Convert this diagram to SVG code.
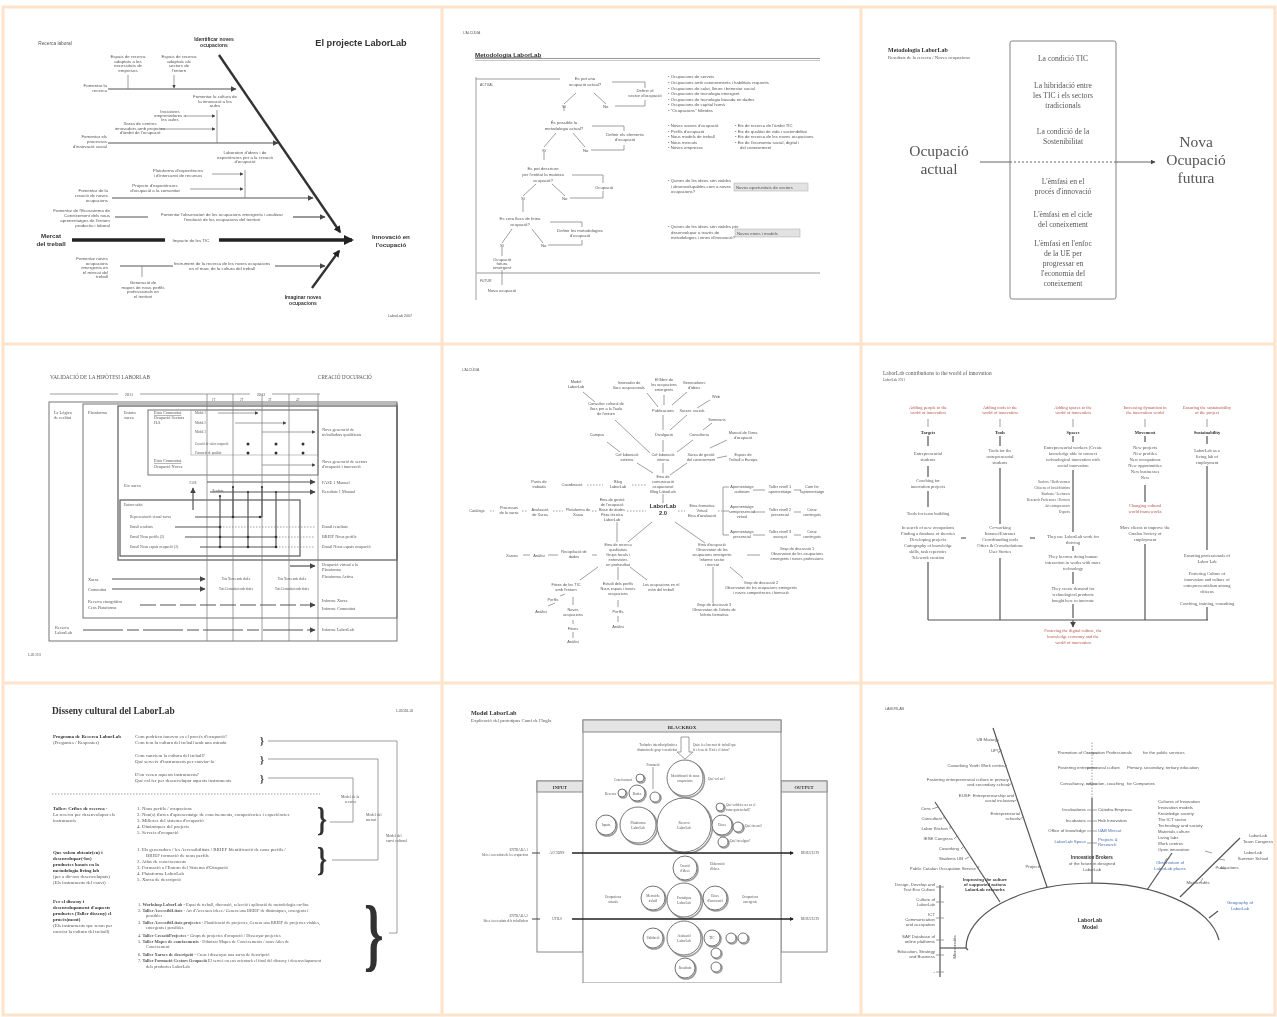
<svg xmlns="http://www.w3.org/2000/svg" width="1277" height="1017" viewBox="0 0 1277 1017">
<defs>
<style>
.t{font-family:"Liberation Sans",Arial,sans-serif;fill:#555}
.s{font-family:"Liberation Serif","Times New Roman",serif;fill:#555}
.b{font-weight:bold;fill:#333}
.m{text-anchor:middle}
.e{text-anchor:end}
.l{stroke:#777;stroke-width:0.7;fill:none}
.k{stroke:#555;stroke-width:1.2;fill:none}
.K{stroke:#333;stroke-width:2.4;fill:none}
.d{stroke:#777;stroke-width:0.7;fill:none;stroke-dasharray:1.5 1.5}
.r{fill:#b4544a}
.u{fill:#4a6fb4}
.fr{stroke:#fde3c9;stroke-width:3;fill:none}
.c{fill:#fff;stroke:#666;stroke-width:0.9}
.cs{fill:none;stroke:#999;stroke-width:1.6}
</style>
<marker id="a" viewBox="0 0 10 10" refX="9" refY="5" markerWidth="5" markerHeight="5" orient="auto"><path d="M0,0 L10,5 L0,10 z" fill="#444"/></marker>
<marker id="A" viewBox="0 0 10 10" refX="8" refY="5" markerWidth="3" markerHeight="3" orient="auto"><path d="M0,0 L10,5 L0,10 z" fill="#222"/></marker>
<filter id="soft" x="0" y="0" width="1" height="1"><feGaussianBlur stdDeviation="0.45"/></filter>
</defs>
<rect width="1277" height="1017" fill="#fff"/>
<g id="frames">
<rect class="fr" x="3" y="7" width="1272" height="1008"/>
<line class="fr" x1="442" y1="7" x2="442" y2="1015"/>
<line class="fr" x1="861" y1="7" x2="861" y2="1015"/>
<line class="fr" x1="3" y1="344" x2="1275" y2="344"/>
<line class="fr" x1="3" y1="683" x2="1275" y2="683"/>
</g>
<g filter="url(#soft)" font-size="4.2">
<!-- PANEL 1 -->
<g id="panel1" font-size="4.4">
<text class="t" x="55" y="45" text-anchor="middle" font-size="4.8">Recerca laboral</text>
<text class="t b m" x="214" y="41" font-size="5">Identificar noves</text>
<text class="t b m" x="214" y="47" font-size="5">ocupacions</text>
<text class="t b m" x="361" y="46" font-size="9.2">El projecte LaborLab</text>
<g id="p1-connectors">
<line class="K" x1="219" y1="55" x2="340" y2="232" marker-end="url(#A)"/>
<line class="k" x1="108" y1="89" x2="236" y2="89" marker-end="url(#a)"/>
<line class="l" x1="128" y1="75" x2="128" y2="89"/>
<line class="l" x1="174" y1="75" x2="174" y2="88" marker-end="url(#a)"/>
<line class="k" x1="108" y1="143" x2="278" y2="143" marker-end="url(#a)"/>
<line class="l" x1="217" y1="110" x2="217" y2="143"/>
<line class="l" x1="185" y1="116" x2="215" y2="116" marker-end="url(#a)"/>
<line class="l" x1="160" y1="129" x2="215" y2="129" marker-end="url(#a)"/>
<line class="k" x1="112" y1="198" x2="313" y2="198" marker-end="url(#a)"/>
<line class="l" x1="245" y1="170" x2="245" y2="198"/>
<line class="l" x1="212" y1="174" x2="243" y2="174" marker-end="url(#a)"/>
<line class="l" x1="190" y1="189" x2="243" y2="189" marker-end="url(#a)"/>
<line class="k" x1="115" y1="217" x2="148" y2="217"/>
<line class="k" x1="293" y1="217" x2="325" y2="217" marker-end="url(#a)"/>
<line stroke="#222" stroke-width="3.4" x1="72" y1="240" x2="165" y2="240"/>
<line stroke="#222" stroke-width="3.4" x1="219" y1="240" x2="352" y2="240" marker-end="url(#A)"/>
<line class="k" x1="120" y1="266" x2="173" y2="266"/>
<line class="l" x1="142" y1="266" x2="142" y2="277"/>
<line class="k" x1="275" y1="266" x2="325" y2="266" marker-end="url(#a)"/>
<line class="K" x1="312" y1="288" x2="339" y2="251" marker-end="url(#A)"/>
</g>
<text class="t m" x="128" y="58">Espais de recerca</text><text class="t m" x="128" y="62.5">adaptats a les</text><text class="t m" x="128" y="67">necessitats de</text><text class="t m" x="128" y="71.5">empreses</text>
<text class="t m" x="179" y="58">Espais de recerca</text><text class="t m" x="179" y="62.5">adaptats als</text><text class="t m" x="179" y="67">sectors de</text><text class="t m" x="179" y="71.5">l'entorn</text>
<text class="t e" x="107" y="87">Fomentar la</text><text class="t e" x="107" y="92">recerca</text>
<text class="t m" x="215" y="98">Fomentar la cultura de</text><text class="t m" x="215" y="102.5">la innovació a les</text><text class="t m" x="215" y="107">aules</text>
<text class="t m" x="170" y="113">Iniciatives</text><text class="t m" x="170" y="117">emprenedores a</text><text class="t m" x="170" y="121">les aules</text>
<text class="t m" x="140" y="125">Xarxa de centres</text><text class="t m" x="140" y="129.5">innovadors amb projectes</text><text class="t m" x="140" y="134">d'àmbit de l'ocupació</text>
<text class="t e" x="107" y="138">Fomentar els</text><text class="t e" x="107" y="143">processos</text><text class="t e" x="107" y="148">d'innovació social</text>
<text class="t m" x="245" y="154">Laboratori d'idees i de</text><text class="t m" x="245" y="158.5">experiències per a la creació</text><text class="t m" x="245" y="163">d'ocupació</text>
<text class="t m" x="178" y="172">Plataforma d'experiències</text><text class="t m" x="178" y="176.5">i d'intercanvi de recursos</text>
<text class="t m" x="155" y="187">Projecte d'experiències</text><text class="t m" x="155" y="191.5">d'ocupació a la comunitat</text>
<text class="t e" x="108" y="192">Fomentar de la</text><text class="t e" x="108" y="197">creació de noves</text><text class="t e" x="108" y="202">ocupacions</text>
<text class="t m" x="222" y="216">Fomentar l'observatori de les ocupacions emergents i analitzar</text><text class="t m" x="222" y="221">l'evolució de les ocupacions del territori</text>
<text class="t e" x="110" y="212">Fomentar de l'Ecosistema de</text><text class="t e" x="110" y="217">Coneixement dels nous</text><text class="t e" x="110" y="222">aprenentatges de l'entorn</text><text class="t e" x="110" y="227">productiu i laboral</text>
<text class="t m" x="191" y="242">Impacte de les TIC</text>
<text class="t b m" x="51" y="238" font-size="6.2">Mercat</text><text class="t b m" x="51" y="246" font-size="6.2">del treball</text>
<text class="t b m" x="391" y="239" font-size="6.2">Innovació en</text><text class="t b m" x="391" y="247" font-size="6.2">l'ocupació</text>
<text class="t m" x="222" y="265">Instrument de la recerca de les noves ocupacions</text><text class="t m" x="222" y="270">en el marc de la cultura del treball</text>
<text class="t e" x="108" y="260">Fomentar noves</text><text class="t e" x="108" y="264.5">ocupacions</text><text class="t e" x="108" y="269">emergents en</text><text class="t e" x="108" y="273.5">el mercat del</text><text class="t e" x="108" y="278">treball</text>
<text class="t m" x="143" y="284">Generació de</text><text class="t m" x="143" y="288.5">mapes de nous perfils</text><text class="t m" x="143" y="293">professionals en</text><text class="t m" x="143" y="297.5">el territori</text>
<text class="t b m" x="303" y="299" font-size="5">Imaginar noves</text><text class="t b m" x="303" y="305" font-size="5">ocupacions</text>
<text class="t m" x="400" y="317" font-size="3.6">LaborLab 2007</text>
</g>

<!-- PANEL 2 -->
<g id="panel2" font-size="4.3">
<text class="t" x="463" y="34" font-size="3.4">L'ALCÚDIA</text>
<text class="t b" x="475" y="56.5" font-size="6.2" text-decoration="underline">Metodologia LaborLab</text>
<line stroke="#999" stroke-width="1.2" x1="475" y1="58.5" x2="820" y2="58.5"/>
<line stroke="#bbb" stroke-width="0.8" x1="475" y1="60.5" x2="820" y2="60.5"/>
<g id="p2-connectors">
<line class="l" x1="476" y1="77" x2="476" y2="300"/>
<line class="l" x1="476" y1="79" x2="560" y2="79"/>
<line stroke="#bbb" stroke-width="1.6" x1="476" y1="273" x2="820" y2="273"/>
<path class="l" d="M576,93 L564,104 M594,93 L606,104 M612,82 L645,82 L645,88 M615,106 L645,106 L645,100"/>
<path class="l" d="M556,133 L544,147 M573,133 L585,147 M592,126 L624,126 L624,131 M591,150 L624,150 L624,145"/>
<path class="l" d="M564,106 L564,111 M544,152 L544,160"/>
<path class="l" d="M536,184 L523,196 M552,184 L565,196 M572,175 L603,175 L603,183 M570,198 L603,198 L603,191"/>
<path class="l" d="M523,200 L523,212 M512,229 L502,243 M532,229 L543,243 M550,222 L582,222 L582,227 M548,245 L582,245 L582,240"/>
<path class="l" d="M502,247 L502,256 M502,270 L502,285"/>
</g>
<text class="t" x="480" y="86" font-size="3.4">ACTUAL</text>
<text class="t m" x="585" y="80">Es pot una</text><text class="t m" x="585" y="86">ocupació actual?</text>
<text class="t" x="562" y="108">Sí</text><text class="t" x="603" y="108">No</text>
<text class="t m" x="645" y="92">Definir el</text><text class="t m" x="645" y="97">sector d'ocupació</text>
<text class="t m" x="564" y="124">És possible la</text><text class="t m" x="564" y="130">metodologia actual?</text>
<text class="t" x="542" y="152">Sí</text><text class="t" x="583" y="152">No</text>
<text class="t m" x="625" y="136">Definir els elements</text><text class="t m" x="625" y="141">d'ocupació</text>
<text class="t m" x="543" y="170">Es pot descriure</text><text class="t m" x="543" y="176">per l'entitat la mateixa</text><text class="t m" x="543" y="182">ocupació?</text>
<text class="t" x="521" y="200">Sí</text><text class="t" x="562" y="200">No</text>
<text class="t m" x="604" y="189">Ocupació</text>
<text class="t m" x="520" y="220">Es crea llocs de feina</text><text class="t m" x="520" y="226">ocupació?</text>
<text class="t" x="500" y="247">Sí</text><text class="t" x="541" y="247">No</text>
<text class="t m" x="580" y="232">Definir les metodologies</text><text class="t m" x="580" y="237">d'ocupació</text>
<text class="t m" x="502" y="261">Ocupació</text><text class="t m" x="502" y="265">futura</text><text class="t m" x="502" y="269">emergent</text>
<text class="t" x="480" y="282" font-size="3.4">FUTUR</text>
<text class="t m" x="502" y="292">Nova ocupació</text>
<text class="t" x="668" y="78">• Ocupacions de serveis</text>
<text class="t" x="668" y="84">• Ocupacions amb coneixements i habilitats requerits</text>
<text class="t" x="668" y="89.5">• Ocupacions de salut, lleure i benestar social</text>
<text class="t" x="668" y="95">• Ocupacions de tecnologia emergent</text>
<text class="t" x="668" y="100.5">• Ocupacions de tecnologia basada en dades</text>
<text class="t" x="668" y="106">• Ocupacions de capital humà</text>
<text class="t" x="668" y="111.5">• "Ocupacions" híbrides</text>
<text class="t" x="668" y="127">• Noves xarxes d'ocupació</text>
<text class="t" x="668" y="132.5">• Perfils d'ocupació</text>
<text class="t" x="668" y="138">• Nous models de treball</text>
<text class="t" x="668" y="143.5">• Nous mercats</text>
<text class="t" x="668" y="149">• Noves empreses</text>
<text class="t" x="735" y="127">• Eix de recerca de l'àmbit TIC</text>
<text class="t" x="735" y="132.5">• Eix de qualitat de vida i sostenibilitat</text>
<text class="t" x="735" y="138">• Eix de recerca de les noves ocupacions</text>
<text class="t" x="735" y="143.5">• Eix de l'economia social, digital i</text>
<text class="t" x="740" y="149">del coneixement</text>
<text class="t" x="668" y="182">• Quines de les idees són viables</text>
<text class="t" x="671" y="187.5">i desenvolupables com a noves</text>
<text class="t" x="671" y="193">ocupacions?</text>
<rect x="734" y="183" width="74" height="8" fill="#e2e2e2" stroke="#aaa" stroke-width="0.5"/>
<text class="t" x="736" y="188.5">Noves oportunitats de sectors</text>
<text class="t" x="668" y="228">• Quines de les idees són viables per</text>
<text class="t" x="671" y="233.5">desenvolupar a través de</text>
<text class="t" x="671" y="239">metodologies i eines d'innovació?</text>
<rect x="735" y="229" width="65" height="8" fill="#e2e2e2" stroke="#aaa" stroke-width="0.5"/>
<text class="t" x="737" y="234.5">Noves eines i models</text>
</g>

<!-- PANEL 3 -->
<g id="panel3">
<text class="s b" x="888" y="52" font-size="6">Metodologia LaborLab</text>
<text class="s" x="888" y="58.5" font-size="4.8">Resultats de la recerca / Noves ocupacions</text>
<rect x="1010" y="41" width="106" height="258" rx="2" fill="none" stroke="#777" stroke-width="0.9"/>
<g font-size="7.6">
<text class="s m" x="1063" y="61">La condició TIC</text>
<text class="s m" x="1063" y="88">La hibridació entre</text>
<text class="s m" x="1063" y="98">les TIC i els sectors</text>
<text class="s m" x="1063" y="108">tradicionals</text>
<text class="s m" x="1063" y="134">La condició de la</text>
<text class="s m" x="1063" y="144">Sostenibilitat</text>
<text class="s m" x="1063" y="184">L'èmfasi en el</text>
<text class="s m" x="1063" y="194">procés d'innovació</text>
<text class="s m" x="1063" y="217">L'èmfasi en el cicle</text>
<text class="s m" x="1063" y="227">del coneixement</text>
<text class="s m" x="1063" y="246">L'èmfasi en l'enfoc</text>
<text class="s m" x="1063" y="256">de la UE per</text>
<text class="s m" x="1063" y="266">progressar en</text>
<text class="s m" x="1063" y="276">l'economia del</text>
<text class="s m" x="1063" y="286">coneixement</text>
</g>
<text class="s m" x="939" y="156" font-size="15.5">Ocupació</text>
<text class="s m" x="939" y="174" font-size="15.5">actual</text>
<text class="s m" x="1196" y="147" font-size="15.5">Nova</text>
<text class="s m" x="1196" y="165" font-size="15.5">Ocupació</text>
<text class="s m" x="1196" y="183" font-size="15.5">futura</text>
<g id="p3-connectors">
<line stroke="#666" stroke-width="1" x1="980" y1="162" x2="1010" y2="162"/>
<line stroke="#666" stroke-width="1" stroke-dasharray="2 2" x1="1010" y1="162" x2="1116" y2="162"/>
<line stroke="#666" stroke-width="1" x1="1116" y1="162" x2="1155" y2="162" marker-end="url(#a)"/>
</g>
</g>

<!-- PANEL 4 -->
<g id="panel4" font-size="4.3">
<text class="s" x="50" y="379" font-size="5.3">VALIDACIÓ DE LA HIPÒTESI LABORLAB</text>
<text class="s" x="318" y="379" font-size="5.1">CREACIÓ D'OCUPACIÓ</text>
<line class="l" x1="50" y1="394" x2="118" y2="394"/><line class="l" x1="140" y1="394" x2="250" y2="394"/><line class="l" x1="272" y1="394" x2="320" y2="394"/>
<text class="s m" x="129" y="395.5">2011</text><text class="s m" x="261" y="395.5">2012</text>
<text class="s" x="212" y="401" font-size="3">1T</text><text class="s" x="240" y="401" font-size="3">2T</text><text class="s" x="268" y="401" font-size="3">3T</text><text class="s" x="296" y="401" font-size="3">4T</text>
<rect x="49" y="402" width="348" height="239" fill="none" stroke="#666" stroke-width="0.9"/>
<rect x="83" y="404" width="314" height="214" fill="none" stroke="#666" stroke-width="0.9"/>
<rect x="118" y="406" width="279" height="154" fill="none" stroke="#666" stroke-width="1.3"/>
<rect x="148" y="410" width="170" height="65" fill="none" stroke="#666" stroke-width="0.9"/>
<rect x="191" y="410" width="127" height="45" fill="none" stroke="#999" stroke-width="0.6"/>
<rect x="120" y="500" width="180" height="56" fill="none" stroke="#666" stroke-width="1.3"/>
<g id="p4-connectors">
<path class="l" d="M207,394 V641 M233,394 V641 M262,394 V641 M289,394 V641 M318,394 V641"/>
<line class="l" x1="218" y1="413" x2="258" y2="413" marker-end="url(#a)"/>
<line class="l" x1="235" y1="423" x2="286" y2="423" marker-end="url(#a)"/>
<line class="l" x1="262" y1="432" x2="315" y2="432" marker-end="url(#a)"/>
<line class="l" x1="262" y1="465" x2="315" y2="465" marker-end="url(#a)"/>
<line class="k" x1="207" y1="482" x2="315" y2="482" marker-end="url(#a)"/>
<line class="k" x1="210" y1="492" x2="315" y2="492" marker-end="url(#a)"/>
<line class="k" x1="193" y1="510" x2="193" y2="488" marker-end="url(#a)"/>
<path class="k" d="M220,496 V547 M233,487 V517 M248,492 V547 M262,487 V517 M276,492 V547"/>
<line class="k" x1="195" y1="517" x2="262" y2="517"/>
<line class="k" x1="175" y1="527" x2="220" y2="527"/>
<line class="k" x1="185" y1="537" x2="276" y2="537"/>
<line class="k" x1="200" y1="547" x2="276" y2="547"/>
<line class="d" x1="220" y1="527" x2="315" y2="527"/><line class="d" x1="276" y1="537" x2="315" y2="537"/><line class="d" x1="276" y1="547" x2="315" y2="547"/>
<line class="k" x1="290" y1="566" x2="315" y2="566" marker-end="url(#a)"/>
<line class="k" x1="112" y1="579" x2="205" y2="579" marker-end="url(#a)"/>
<line class="k" x1="112" y1="589" x2="205" y2="589" marker-end="url(#a)"/>
<line class="k" x1="140" y1="605" x2="315" y2="605" marker-end="url(#a)" stroke-dasharray="16 4"/>
<line class="k" x1="83" y1="630" x2="315" y2="630" marker-end="url(#a)" stroke-dasharray="40 4 12 4"/>
</g>
<g fill="#333"><circle cx="248" cy="444" r="1.5"/><circle cx="276" cy="444" r="1.5"/><circle cx="303" cy="444" r="1.5"/><circle cx="248" cy="453" r="1.5"/><circle cx="276" cy="453" r="1.5"/><circle cx="303" cy="453" r="1.5"/>
<circle cx="233" cy="517" r="1.3"/><circle cx="260" cy="517" r="1.3"/><circle cx="220" cy="527" r="1.3"/><circle cx="220" cy="537" r="1.3"/><circle cx="248" cy="537" r="1.3"/><circle cx="276" cy="537" r="1.3"/><circle cx="220" cy="547" r="1.3"/><circle cx="248" cy="547" r="1.3"/><circle cx="276" cy="547" r="1.3"/>
<circle cx="233" cy="487" r="1.1"/><circle cx="262" cy="487" r="1.1"/><circle cx="248" cy="492" r="1.1"/><circle cx="220" cy="496" r="1.1"/><circle cx="276" cy="492" r="1.1"/></g>
<text class="s" x="54" y="414">La Lògica</text><text class="s" x="54" y="419">de realitat</text>
<text class="s" x="88" y="414">Plataforma</text>
<text class="s" x="124" y="414">Entorn</text><text class="s" x="124" y="419">xarxa</text>
<text class="s" x="154" y="414" text-decoration="underline">Eina Comunitat</text><text class="s" x="154" y="419">Ocupació Sectors</text><text class="s" x="154" y="424">ILS</text>
<text class="s" x="195" y="414" font-size="3.2">Mòdul 1</text><text class="s" x="195" y="424" font-size="3.2">Mòdul 2</text><text class="s" x="195" y="433" font-size="3.2">Mòdul 3</text>
<text class="s" x="195" y="445" font-size="3.2">Creació de valor ocupació</text><text class="s" x="195" y="453.5" font-size="3.2">Formació de qualitat</text>
<text class="s" x="154" y="462" text-decoration="underline">Eina Comunitat</text><text class="s" x="154" y="468">Ocupació Noves</text>
<text class="s" x="124" y="487">Eix xarxa</text>
<text class="s m" x="193" y="484" font-size="3">FASE</text>
<text class="s m" x="218" y="492" font-size="3">Resultats</text>
<text class="s" x="124" y="506" font-size="3.8">Entorn salut</text>
<text class="s" x="130" y="518" font-size="3.8">Representació visual xarxa</text>
<text class="s" x="130" y="528" font-size="3.8">Email resultats</text>
<text class="s" x="130" y="538" font-size="3.8">Email Nous perfils (2)</text>
<text class="s" x="130" y="548" font-size="3.8">Email Nous espais ocupació (2)</text>
<text class="s" x="88" y="581">Xarxa</text>
<text class="s" x="88" y="591">Comunitat</text>
<text class="s m" x="236" y="580" font-size="3.2">Tots Xarxa amb dades</text><text class="s m" x="292" y="580" font-size="3.2">Tots Xarxa amb dades</text>
<text class="s m" x="236" y="590" font-size="3.2">Tots Comunitat amb dades</text><text class="s m" x="292" y="590" font-size="3.2">Tots Comunitat amb dades</text>
<text class="s" x="88" y="603">Recerca etnogràfica</text><text class="s" x="88" y="609">Cens Plataforma</text>
<text class="s" x="55" y="629">Recerca</text><text class="s" x="55" y="634">LaborLab</text>
<text class="s" x="322" y="431">Nova generació de</text><text class="s" x="322" y="436">treballadors qualificats</text>
<text class="s" x="322" y="463">Nova generació de sectors</text><text class="s" x="322" y="468">d'ocupació i innovació</text>
<text class="s" x="322" y="484">FASE 1 Manual</text>
<text class="s" x="322" y="493">Resultats 1 Manual</text>
<text class="s" x="322" y="528">Email resultats</text>
<text class="s" x="322" y="538">BREIF Nous perfils</text>
<text class="s" x="322" y="548">Email Nous espais ocupació</text>
<text class="s" x="322" y="566">Ocupació virtual a la</text><text class="s" x="322" y="571">Plataforma</text><text class="s" x="322" y="578">Plataforma Activa</text>
<text class="s" x="322" y="602">Informe Xarxa</text><text class="s" x="322" y="610">Informe Comunitat</text>
<text class="s" x="322" y="631">Informe LaborLab</text>
<text class="s" x="28" y="656" font-size="3.2">LAB 2011</text>
</g>

<!-- PANEL 5 -->
<g id="panel5" font-size="3.9">
<text class="t" x="462" y="371" font-size="3.4">L'ALCÚDIA</text>
<g id="p5-connectors">
<path class="l" d="M583,392 L595,402 M615,420 L650,453 M647,393 L658,407 M664,395 L664,405 M687,392 L672,405 M710,400 L697,408 M687,415 L670,430 M712,423 L703,430 M663,415 L663,430 M663,440 L663,452 M693,440 L677,452 M710,448 L727,440 M607,442 L620,452 M717,458 L727,456 M637,463 L653,473 M687,463 L670,475 M663,463 L663,473 M663,494 L663,503"/>
<path class="d" d="M587,485 L603,485 M632,485 L647,485 M627,511 L646,511 M592,511 L597,511 M553,511 L563,511 M522,511 L528,511 M490,511 L494,511 M678,511 L685,511 M718,511 L723,511"/>
<path class="l" d="M723,487 V535 M723,487 H729 M723,511 H729 M723,535 H729 M753,490 H765 M753,512 H765 M753,535 H765 M794,490 H801 M794,512 H801 M794,535 H801"/>
<path class="l" d="M652,522 L628,542 M675,522 L705,543 M617,522 L617,542 M597,555 L592,555 M548,555 L558,555 M523,555 L530,555 M747,555 L760,555 M730,567 L743,578 M713,567 L713,603 M598,567 L580,580 M618,567 L618,580 M630,567 L647,580 M573,597 L573,605 M573,620 L573,624 M573,632 L573,638 M618,600 L618,607 M618,616 L618,622 M560,596 L565,594 M548,606 L555,603"/>
</g>
<text class="t m" x="576" y="383">Model</text><text class="t m" x="576" y="388">LaborLab</text>
<text class="t m" x="606" y="405">Consultor cultural de</text><text class="t m" x="606" y="410">llocs per a la Taula</text><text class="t m" x="606" y="415">de l'entorn</text>
<text class="t m" x="629" y="384">Innovador de</text><text class="t m" x="629" y="389">llocs ocupacionals</text>
<text class="t m" x="664" y="381">El llibre de</text><text class="t m" x="664" y="386">les ocupacions</text><text class="t m" x="664" y="391">emergents</text>
<text class="t m" x="694" y="384">Generadores</text><text class="t m" x="694" y="389">d'idees</text>
<text class="t m" x="716" y="398">Web</text>
<text class="t m" x="663" y="412">Publicacions</text>
<text class="t m" x="692" y="412">Xarxes socials</text>
<text class="t m" x="717" y="421">Seminaris</text>
<text class="t m" x="664" y="436">Divulgació</text>
<text class="t m" x="699" y="436">Consultoria</text>
<text class="t m" x="743" y="434">Manual de l'àrea</text><text class="t m" x="743" y="439">d'ocupació</text>
<text class="t m" x="597" y="436">Campus</text>
<text class="t m" x="627" y="456">Col·laboració</text><text class="t m" x="627" y="461">externa</text>
<text class="t m" x="663" y="456">Col·laboració</text><text class="t m" x="663" y="461">interna</text>
<text class="t m" x="701" y="456">Xarxa de gestió</text><text class="t m" x="701" y="461">del coneixement</text>
<text class="t m" x="743" y="456">Espais de</text><text class="t m" x="743" y="461">Treball a Europa</text>
<text class="t m" x="663" y="478">Eina de</text><text class="t m" x="663" y="483">comunicació</text><text class="t m" x="663" y="488">ocupacional</text><text class="t m" x="663" y="493">Blog LaborLab</text>
<text class="t m" x="572" y="486">Coordinació</text>
<text class="t m" x="618" y="483">Blog</text><text class="t m" x="618" y="488">LaborLab</text>
<text class="t m" x="539" y="483">Punts de</text><text class="t m" x="539" y="488">trobada</text>
<text class="t m" x="612" y="501">Eina de gestió</text><text class="t m" x="612" y="506">de l'ocupació</text><text class="t m" x="612" y="511">Base de dades</text><text class="t m" x="612" y="516">Fitxa tècnica</text><text class="t m" x="612" y="521">LaborLab</text>
<text class="t m" x="578" y="511">Plataforma de</text><text class="t m" x="578" y="516">Xarxa</text>
<text class="t m" x="540" y="511">Avaluació</text><text class="t m" x="540" y="516">de Xarxa</text>
<text class="t m" x="509" y="509">Processos</text><text class="t m" x="509" y="514">de la xarxa</text>
<text class="t m" x="477" y="512">Catàlegs</text>
<text class="t m" x="702" y="507">Eina formativa</text><text class="t m" x="702" y="512">Virtual</text><text class="t m" x="702" y="517">Eina d'avaluació</text>
<text class="t m" x="742" y="488">Aprenentatge</text><text class="t m" x="742" y="493">autònom</text>
<text class="t m" x="780" y="488">Taller nivell 1</text><text class="t m" x="780" y="493">aprenentatge</text>
<text class="t m" x="812" y="488">Com fer</text><text class="t m" x="812" y="493">l'aprenentatge</text>
<text class="t m" x="742" y="508">Aprenentatge</text><text class="t m" x="742" y="513">semipresencial</text><text class="t m" x="742" y="518">virtual</text>
<text class="t m" x="780" y="511">Taller nivell 2</text><text class="t m" x="780" y="516">presencial</text>
<text class="t m" x="812" y="511">Crear</text><text class="t m" x="812" y="516">continguts</text>
<text class="t m" x="742" y="533">Aprenentatge</text><text class="t m" x="742" y="538">presencial</text>
<text class="t m" x="780" y="533">Taller nivell 3</text><text class="t m" x="780" y="538">avançat</text>
<text class="t m" x="812" y="533">Crear</text><text class="t m" x="812" y="538">continguts</text>
<text class="t m" x="618" y="546">Eina de recerca</text><text class="t m" x="618" y="551">qualitativa</text><text class="t m" x="618" y="556">Grups focals i</text><text class="t m" x="618" y="561">entrevistes</text><text class="t m" x="618" y="566">en profunditat</text>
<text class="t m" x="512" y="557">Xarxes</text><text class="t m" x="539" y="557">Anàlisi</text>
<text class="t m" x="574" y="553">Recopilació de</text><text class="t m" x="574" y="558">dades</text>
<text class="t m" x="712" y="546">Eina d'ocupació</text><text class="t m" x="712" y="551">Observatori de les</text><text class="t m" x="712" y="556">ocupacions emergents</text><text class="t m" x="712" y="561">Informe sector</text><text class="t m" x="712" y="566">i mercat</text>
<text class="t m" x="797" y="550">Grup de discussió 1</text><text class="t m" x="797" y="555">Observatori de les ocupacions</text><text class="t m" x="797" y="560">emergents i noves professions</text>
<text class="t m" x="761" y="584">Grup de discussió 2</text><text class="t m" x="761" y="589">Observatori de les ocupacions emergents</text><text class="t m" x="761" y="594">i noves competències i formació</text>
<text class="t m" x="714" y="606">Grup de discussió 3</text><text class="t m" x="714" y="611">Observatori de l'oferta de</text><text class="t m" x="714" y="616">l'oferta formativa</text>
<text class="t m" x="566" y="586">Fitxes de les TIC</text><text class="t m" x="566" y="591">amb l'entorn</text>
<text class="t m" x="618" y="585">Estudi dels perfils</text><text class="t m" x="618" y="590">Nous espais i noves</text><text class="t m" x="618" y="595">ocupacions</text>
<text class="t m" x="661" y="586">Les ocupacions en el</text><text class="t m" x="661" y="591">món del treball</text>
<text class="t m" x="553" y="601">Perfils</text>
<text class="t m" x="541" y="613">Anàlisi</text>
<text class="t m" x="573" y="611">Noves</text><text class="t m" x="573" y="616">ocupacions</text>
<text class="t m" x="573" y="630">Fitxes</text>
<text class="t m" x="573" y="643">Anàlisi</text>
<text class="t m" x="618" y="613">Perfils</text>
<text class="t m" x="618" y="628">Anàlisi</text>
<text class="t b m" x="663" y="508" font-size="5.8">LaborLab</text>
<text class="t b m" x="663" y="515" font-size="5.8">2.0</text>
</g>

<!-- PANEL 6 -->
<g id="panel6" font-size="4.5">
<text class="s" x="883" y="375" font-size="5.4">LaborLab contributions to the world of innovation</text>
<text class="s" x="883" y="380.5" font-size="3.6">LaborLab 2011</text>
<text class="s r m" x="928" y="409">Adding people to the</text><text class="s r m" x="928" y="414">world of innovation</text>
<text class="s r m" x="1000" y="409">Adding tools to the</text><text class="s r m" x="1000" y="414">world of innovation</text>
<text class="s r m" x="1073" y="409">Adding spaces to the</text><text class="s r m" x="1073" y="414">world of innovation</text>
<text class="s r m" x="1145" y="409">Increasing dynamism in</text><text class="s r m" x="1145" y="414">the innovation world</text>
<text class="s r m" x="1207" y="409">Ensuring the sustainability</text><text class="s r m" x="1207" y="414">of the project</text>
<g id="p6-connectors">
<path class="l" d="M928,419 V427 M1000,419 V427 M1073,419 V427 M1145,419 V427 M1207,419 V427"/>
<path class="k" d="M928,436 V446 M928,466 V477 M928,491 V507 M928,562 V620 M1000,436 V446 M1000,468 V524 M1000,558 V620 M1073,436 V442 M1073,470 V532 M1073,546 V551 M1073,572 V584 M1073,604 V618 M1145,436 V442 M1145,485 V502 M1145,544 V620 M1207,436 V444 M1207,466 V550 M1207,607 V620"/>
<path class="k" d="M928,620 H1208"/>
<path stroke="#444" stroke-width="1.2" fill="none" d="M961,538 H966 M1030,538 H1035"/>
<line class="k" x1="1073" y1="620" x2="1073" y2="627" marker-end="url(#a)"/>
</g>
<text class="s b m" x="928" y="434">Targets</text>
<text class="s b m" x="1000" y="434">Tools</text>
<text class="s b m" x="1073" y="434">Spaces</text>
<text class="s b m" x="1145" y="434">Movement</text>
<text class="s b m" x="1207" y="434">Sustainability</text>
<text class="s m" x="928" y="455">Entrepreneurial</text><text class="s m" x="928" y="461">students</text>
<text class="s m" x="928" y="482">Coaching for</text><text class="s m" x="928" y="488">innovation projects</text>
<text class="s m" x="928" y="515">Tools for team building</text>
<text class="s m" x="928" y="529">In search of new occupations</text><text class="s m" x="928" y="535">Finding a database of theories</text><text class="s m" x="928" y="541">Developing projects</text><text class="s m" x="928" y="547">Cartography of knowledge</text><text class="s m" x="928" y="553">skills, task repertoire</text><text class="s m" x="928" y="559">Telework creation</text>
<text class="s m" x="1000" y="452">Tools for the</text><text class="s m" x="1000" y="458">entrepreneurial</text><text class="s m" x="1000" y="464">students</text>
<text class="s m" x="1000" y="529">Co-working</text><text class="s m" x="1000" y="535">Intranet/Extranet</text><text class="s m" x="1000" y="541">Crowdfunding tools</text><text class="s m" x="1000" y="547">Offers &amp; Crowdsolutions</text><text class="s m" x="1000" y="553">User Stories</text>
<text class="s m" x="1073" y="449">Entrepreneurial workers (Create</text><text class="s m" x="1073" y="455">knowledge able to connect</text><text class="s m" x="1073" y="461">technological innovation with</text><text class="s m" x="1073" y="467">social innovation</text>
<text class="s e" x="1070" y="483" font-size="3.6">Seniors / Both women</text><text class="s e" x="1070" y="489" font-size="3.6">Citizens of local districts</text><text class="s e" x="1070" y="495" font-size="3.6">Students / Lecturers</text><text class="s e" x="1070" y="501" font-size="3.6">Research Professors / Doctors</text><text class="s e" x="1070" y="507" font-size="3.6">Art entrepreneurs</text><text class="s e" x="1070" y="513" font-size="3.6">Experts</text>
<text class="s m" x="1073" y="538">They use LaborLab work for</text><text class="s m" x="1073" y="544">thriving</text>
<text class="s m" x="1073" y="558">They become doing human</text><text class="s m" x="1073" y="564">interaction in works with more</text><text class="s m" x="1073" y="570">technology</text>
<text class="s m" x="1073" y="590">They create demand for</text><text class="s m" x="1073" y="596">technological products</text><text class="s m" x="1073" y="602">bought here to innovate</text>
<text class="s m" x="1145" y="449">New projects</text><text class="s m" x="1145" y="455">New profiles</text><text class="s m" x="1145" y="461">New occupations</text><text class="s m" x="1145" y="467">New opportunities</text><text class="s m" x="1145" y="473">New businesses</text><text class="s m" x="1145" y="479">New</text>
<text class="s r m" x="1145" y="507">Changing cultural</text><text class="s r m" x="1145" y="513">world frameworks</text>
<text class="s m" x="1145" y="529">More clients to improve the</text><text class="s m" x="1145" y="535">Catalan Society of</text><text class="s m" x="1145" y="541">employment</text>
<text class="s m" x="1207" y="452">LaborLab as a</text><text class="s m" x="1207" y="458">living lab of</text><text class="s m" x="1207" y="464">employment</text>
<text class="s m" x="1207" y="557">Ensuring professionals of</text><text class="s m" x="1207" y="563">Labor Lab</text>
<text class="s m" x="1207" y="575">Fostering Culture of</text><text class="s m" x="1207" y="581">innovation and culture of</text><text class="s m" x="1207" y="587">entrepreneurialism among</text><text class="s m" x="1207" y="593">citizens</text>
<text class="s m" x="1207" y="605">Coaching, training, consulting</text>
<text class="s r m" x="1073" y="632">Fostering the digital culture, the</text><text class="s r m" x="1073" y="638">knowledge economy and the</text><text class="s r m" x="1073" y="644">world of innovation</text>
</g>

<!-- PANEL 7 -->
<g id="panel7" font-size="4.9">
<text class="s b" x="52" y="714" font-size="9.4">Disseny cultural del LaborLab</text>
<text class="s" x="396" y="712" font-size="3.2">LABORLAB</text>
<text class="s b" x="53" y="738">Programa de Recerca LaborLab</text><text class="s" x="53" y="744">(Preguntes / Respostes)</text>
<text class="s" x="135" y="738">Com podríem innovar en el procés d'ocupació?</text><text class="s" x="135" y="744">Com fem la cultura del treball amb una mirada</text>
<text class="s" x="135" y="757">Com canviem la cultura del treball?</text><text class="s" x="135" y="763">Què serveix d'instruments per canviar-la</text>
<text class="s" x="135" y="776">D'on venen aquests instruments?</text><text class="s" x="135" y="782">Què cal fer per desenvolupar aquests instruments</text>
<text class="s" x="341" y="798" font-size="3.8">Model de la</text><text class="s" x="345" y="803" font-size="3.8">recerca</text>
<text class="s" x="366" y="816" font-size="3.8">Model del</text><text class="s" x="366" y="821" font-size="3.8">mercat</text>
<text class="s" x="386" y="837" font-size="3.8">Model del</text><text class="s" x="386" y="842" font-size="3.8">canvi cultural</text>
<text class="s b" x="53" y="810">Taller: Cribes de recerca -</text><text class="s" x="53" y="816">La recerca per desenvolupar els</text><text class="s" x="53" y="822">instruments</text>
<text class="s" x="137" y="810">1.   Nous perfils / ocupacions</text>
<text class="s" x="137" y="816">2.   Nou(s) fluxes d'aprenentatge de coneixements, competències i experiències</text>
<text class="s" x="137" y="822">3.   Millores del sistema d'ocupació</text>
<text class="s" x="137" y="828">4.   Dinàmiques del projecte</text>
<text class="s" x="137" y="834">5.   Serveis d'ocupació</text>
<text class="s b" x="53" y="854">Que volem obtenir(en) i</text><text class="s b" x="53" y="860">desenvolupar(-los)</text><text class="s b" x="53" y="866">productes basats en la</text><text class="s b" x="53" y="872">metodologia living lab</text><text class="s" x="53" y="878">(per a dir-nos desenvolupats)</text><text class="s" x="53" y="884">(Els instruments del canvi)</text>
<text class="s" x="137" y="851">1.   Els generadors / les Accessibilitats / BRIEF Identificació de nous perfils /</text>
<text class="s" x="146" y="857">BRIEF formació de nous perfils</text>
<text class="s" x="137" y="863">2.   Atlas de coneixements</text>
<text class="s" x="137" y="869">3.   Formació a l'Entorn del Sistema d'Ocupació</text>
<text class="s" x="137" y="875">4.   Plataforma LaborLab</text>
<text class="s" x="137" y="881">5.   Xarxa de descripció</text>
<text class="s b" x="53" y="903">Fer el disseny i</text><text class="s b" x="53" y="909">desenvolupament d'aquests</text><text class="s b" x="53" y="915">productes (Taller disseny) el</text><text class="s b" x="53" y="921">procés(ment)</text><text class="s" x="53" y="927">(Els instruments que seran per</text><text class="s" x="53" y="933">canviar la cultura del treball)</text>
<g font-size="4.4">
<text class="s" x="138" y="906">1.   <tspan font-weight="bold">Workshop LaborLab</tspan> - Espai de treball, discussió, selecció i aplicació de metodologia on-line</text>
<text class="s" x="138" y="912">2.   <tspan font-weight="bold">Taller AccessibiLitats</tspan> - Art d'Accessos idees / Genera una BRIEF de dinàmiques, emergents i</text>
<text class="s" x="146" y="917">possibles</text>
<text class="s" x="138" y="924">3.   <tspan font-weight="bold">Taller AccessibiLitats projectes</tspan> - Planificació de projectes, Genera una BRIEF de projectes viables,</text>
<text class="s" x="146" y="929">emergents i possibles</text>
<text class="s" x="138" y="937">4.   <tspan font-weight="bold">Taller CreacióProjectes</tspan> - Grups de projectes d'ocupació / Dissenyar projectes</text>
<text class="s" x="138" y="943">5.   <tspan font-weight="bold">Taller Mapes de coneixements</tspan> - Dibuixar Mapes de Coneixements / nous Atles de</text>
<text class="s" x="146" y="948">Coneixement</text>
<text class="s" x="138" y="956">6.   <tspan font-weight="bold">Taller Xarxes de descripció</tspan> - Crear i dissenyar una xarxa de descripció</text>
<text class="s" x="138" y="962">7.   <tspan font-weight="bold">Taller Formació Gestors Ocupació</tspan> El servei on ens orientarà el final del disseny i desenvolupament</text>
<text class="s" x="146" y="968">dels productes LaborLab</text>
</g>
<line class="d" x1="52" y1="794" x2="320" y2="794"/>
<g id="p7-connectors">
<path class="l" d="M268,741 H397 V933 H389 M268,759 H378 V860 H332 M268,778 H353 V822 H330" stroke-width="0.8"/>
</g>
<text class="s b" x="260" y="744" font-size="10" fill="#444">}</text>
<text class="s b" x="260" y="763" font-size="10" fill="#444">}</text>
<text class="s b" x="260" y="782" font-size="10" fill="#444">}</text>
<text class="s b" x="317" y="831" font-size="34" fill="#222" transform="translate(317 831) scale(0.75 1) translate(-317 -831)">}</text>
<text class="s b" x="317" y="871" font-size="34" fill="#222" transform="translate(317 871) scale(0.75 1) translate(-317 -871)">}</text>
<text class="s b" x="364" y="961" font-size="80" fill="#111" transform="translate(364 961) scale(0.62 1) translate(-364 -961)">}</text>
</g>

<!-- PANEL 8 -->
<g id="panel8" font-size="3.4">
<text class="s b" x="471" y="715" font-size="6.2">Model LaborLab</text>
<text class="s" x="471" y="722" font-size="4.9">Explicació del prototipus Camí de l'Ingla</text>
<rect x="537" y="781" width="46" height="171" fill="#fff" stroke="#888" stroke-width="1"/>
<rect x="537" y="781" width="46" height="11" fill="#e4e4e4" stroke="#888" stroke-width="1"/>
<rect x="781" y="781" width="46" height="171" fill="#fff" stroke="#888" stroke-width="1"/>
<rect x="781" y="781" width="46" height="11" fill="#e4e4e4" stroke="#888" stroke-width="1"/>
<rect x="583" y="720" width="198" height="263" fill="#fff" stroke="#888" stroke-width="1"/>
<rect x="583" y="720" width="198" height="12" fill="#e4e4e4" stroke="#888" stroke-width="1"/>
<text class="s b m" x="682" y="728.5" font-size="5">BLACKBOX</text>
<text class="s b m" x="560" y="789" font-size="4.6">INPUT</text>
<text class="s b m" x="804" y="789" font-size="4.6">OUTPUT</text>
<g id="p8-bubbles">
<g class="cs"><circle cx="685.5" cy="826.5" r="27"/><circle cx="639.5" cy="826.5" r="18"/><circle cx="607" cy="826" r="10"/><circle cx="686.5" cy="779.5" r="18"/><circle cx="638" cy="794" r="8"/><circle cx="656" cy="798" r="5"/><circle cx="623" cy="794" r="4"/><circle cx="641" cy="779" r="4"/><circle cx="723" cy="826" r="10"/><circle cx="721" cy="808" r="4"/><circle cx="739" cy="828" r="5"/><circle cx="724" cy="843" r="5"/><circle cx="686" cy="869" r="12"/><circle cx="685.5" cy="901.5" r="17"/><circle cx="654" cy="899" r="12"/><circle cx="716" cy="899" r="12"/><circle cx="685.5" cy="939.5" r="17"/><circle cx="654" cy="939" r="10"/><circle cx="713" cy="939" r="8"/><circle cx="732" cy="939" r="5"/><circle cx="744" cy="939" r="5"/><circle cx="717" cy="954" r="5"/><circle cx="717" cy="968" r="5"/><circle cx="686" cy="969" r="10"/></g>
<g class="c"><circle cx="684" cy="825" r="27"/><circle cx="638" cy="825" r="18"/><circle cx="606" cy="825" r="10"/><circle cx="685" cy="778" r="18"/><circle cx="637" cy="793" r="8"/><circle cx="655" cy="797" r="5"/><circle cx="622" cy="793" r="4"/><circle cx="640" cy="778" r="4"/><circle cx="722" cy="825" r="10"/><circle cx="720" cy="807" r="4"/><circle cx="738" cy="827" r="5"/><circle cx="723" cy="842" r="5"/><circle cx="685" cy="868" r="12"/><circle cx="684" cy="900" r="17"/><circle cx="653" cy="898" r="12"/><circle cx="715" cy="898" r="12"/><circle cx="684" cy="938" r="17"/><circle cx="653" cy="938" r="10"/><circle cx="712" cy="938" r="8"/><circle cx="731" cy="938" r="5"/><circle cx="743" cy="938" r="5"/><circle cx="716" cy="953" r="5"/><circle cx="716" cy="967" r="5"/><circle cx="685" cy="968" r="10"/></g>
</g>
<g id="p8-connectors">
<path class="l" d="M681,737 H689 V752 L693,752 L685,759 L677,752 L681,752 Z" fill="#fff"/>
<line class="l" x1="653" y1="767" x2="653" y2="789"/>
<line stroke="#222" stroke-width="1.4" x1="572" y1="853" x2="793" y2="853" marker-end="url(#A)"/>
<line stroke="#222" stroke-width="1.4" x1="572" y1="919" x2="793" y2="919" marker-end="url(#A)"/>
<path stroke="#444" stroke-width="1.2" d="M532,853 H540 M532,919 H540"/>
</g>
<text class="s e" x="677" y="746">Trobades interdisciplinàries</text><text class="s e" x="677" y="751">dinàmica de grup i creativitat</text>
<text class="s" x="693" y="746">Quin és el mercat de treball que</text><text class="s" x="693" y="751">té el cas de l'èxit i el futur?</text>
<text class="s m" x="653" y="766">Formació</text>
<text class="s m" x="685" y="777">Identificació de nous</text><text class="s m" x="685" y="782">ocupacions</text>
<text class="s" x="708" y="780">Què vol ser?</text>
<text class="s e" x="632" y="781">Coneixement</text>
<text class="s e" x="616" y="795">Recerca</text>
<text class="s m" x="637" y="795">Dades</text>
<text class="s m" x="606" y="826">Inputs</text>
<text class="s m" x="638" y="824">Plataforma</text><text class="s m" x="638" y="829">LaborLab</text>
<text class="s m" x="684" y="824">Recerca</text><text class="s m" x="684" y="829">LaborLab</text>
<text class="s m" x="722" y="826">Eines</text>
<text class="s" x="726" y="806">Què voldries ser en el</text><text class="s" x="726" y="811">futur quin treball?</text>
<text class="s" x="745" y="827">Què fas ara?</text>
<text class="s" x="730" y="842">Què fas algun?</text>
<text class="s m" x="685" y="867">Creació</text><text class="s m" x="685" y="872">d'idees</text>
<text class="s" x="710" y="865">Elaboració</text><text class="s" x="710" y="870">d'idees</text>
<text class="s m" x="684" y="899">Prototipus</text><text class="s m" x="684" y="904">LaborLab</text>
<text class="s m" x="653" y="897">Mercat de</text><text class="s m" x="653" y="902">treball</text>
<text class="s m" x="715" y="897">Eines</text><text class="s m" x="715" y="902">d'innovació</text>
<text class="s m" x="613" y="898">Ocupacions</text><text class="s m" x="613" y="903">actuals</text>
<text class="s m" x="750" y="898">Ocupacions</text><text class="s m" x="750" y="903">emergents</text>
<text class="s m" x="684" y="937">Avaluació</text><text class="s m" x="684" y="942">LaborLab</text>
<text class="s m" x="653" y="939">Validació</text>
<text class="s m" x="712" y="939">TIC</text>
<text class="s m" x="685" y="969">Resultats</text>
<text class="s e" x="528" y="851">ENTRADA 1</text><text class="s e" x="528" y="856" font-size="3.2">Idees i necessitats de les ocupacions</text>
<text class="s e" x="528" y="917">ENTRADA 2</text><text class="s e" x="528" y="922" font-size="3.2">Idees i necessitats dels treballadors</text>
<text class="s m" x="557" y="854">ACCIONS</text>
<text class="s m" x="557" y="920">UTILS</text>
<text class="s m" x="810" y="854">RESULTATS</text>
<text class="s m" x="810" y="920">RESULTATS</text>
</g>

<!-- PANEL 9 -->
<g id="panel9" font-size="4.3">
<text class="t" x="885" y="710" font-size="3.6">LABORLAB</text>
<g id="p9-connectors">
<path class="k" d="M966,948 A127,65 0 0 1 1219,940" stroke-width="1"/>
<path class="k" d="M966,948 L968,950"/>
<line class="k" x1="1047" y1="887" x2="993" y2="728"/>
<line class="k" x1="1000" y1="902" x2="935" y2="802"/>
<line class="k" x1="1092" y1="883" x2="1092" y2="798"/>
<line class="d" x1="1092" y1="798" x2="1092" y2="742" stroke-width="0.9"/>
<line class="k" x1="1147" y1="890" x2="1172" y2="853"/>
<line class="k" x1="1180" y1="897" x2="1240" y2="838"/>
<line class="k" x1="1209" y1="918" x2="1218" y2="911"/>
<line class="k" x1="940" y1="885" x2="940" y2="977"/>
<line class="k" x1="940" y1="948" x2="966" y2="948"/>
<path class="l" stroke-width="1" d="M995,742 L999,740 M998,753 L1002,750 M1004,767 L1007,765 M1008,786 L1012,783 M1013,802 L1018,799 M1019,820 L1023,817 M932,809 L938,807 M944,819 L944,816 M950,829 L950,826 M954,839 L957,836 M961,849 L963,847 M965,859 L969,857 M978,869 L979,866 M1087,753 H1097 M1087,768 H1097 M1087,784 H1097 M1087,810 H1097 M1087,821 H1097 M1087,831 H1097 M1087,843 H1097 M1205,851 L1212,853 M1218,859 L1225,860 M1220,868 L1226,869 M1200,883 L1203,878 M1164,863 L1167,858 M936,887 H944 M936,902 H944 M936,918 H944 M936,940 H944 M936,955 H944 M936,972 H944"/>
</g>
<text class="t e" x="997" y="741">UB Mataró</text>
<text class="t e" x="1000" y="752">UPC</text>
<text class="t e" x="1004" y="767">Coworking Youth Work centre</text>
<text class="t e" x="1009" y="781">Fostering entrepreneurial culture in primary</text><text class="t e" x="1009" y="786">and secondary school</text>
<text class="t e" x="1014" y="797">EUSF: Entrepreneurship and</text><text class="t e" x="1014" y="802">social inclusion</text>
<text class="t e" x="1020" y="815">Entrepreneurial</text><text class="t e" x="1020" y="820">schools</text>
<text class="t e" x="1041" y="868">Projects</text>
<text class="t e" x="931" y="810">Cens</text>
<text class="t e" x="942" y="820">Consultant</text>
<text class="t e" x="948" y="830">Labor Kitchen</text>
<text class="t e" x="953" y="840">IESE Congress</text>
<text class="t e" x="959" y="850">Coworking</text>
<text class="t e" x="963" y="860">Students UB</text>
<text class="t e" x="976" y="870">Public Catalan Occupation Service</text>
<text class="t b m" x="985" y="881">Improving the culture</text><text class="t b m" x="985" y="886">of supported actions</text><text class="t b m" x="985" y="891">LaborLab networks</text>
<text class="t e" x="1132" y="754">Promotion of Occupation Professionals</text><text class="t" x="1143" y="754">for the public services</text>
<text class="t e" x="1120" y="769">Fostering entrepreneurial culture</text><text class="t" x="1127" y="769">Primary, secondary, tertiary education</text>
<text class="t e" x="1124" y="785">Consultancy, education, coaching</text><text class="t" x="1127" y="785">for Companies</text>
<text class="t e" x="1086" y="811">Incubadores</text><text class="t" x="1098" y="811">Càtedra Empresa</text>
<text class="t e" x="1086" y="822">Incubators</text><text class="t" x="1098" y="822">Hub Innovation</text>
<text class="t e" x="1086" y="832">Office of knowledge</text><text class="t u" x="1098" y="832">UAB Mercat</text>
<text class="t u e" x="1086" y="843">LaborLab Space</text><text class="t u" x="1098" y="841">Projects &amp;</text><text class="t u" x="1098" y="846">Research</text>
<text class="t b m" x="1092" y="859" font-size="4.6">Innovation Brokers</text><text class="t m" x="1092" y="865">of the future in designed</text><text class="t m" x="1092" y="871">LaborLab</text>
<text class="t" x="1158" y="803">Cultures of Innovation</text><text class="t" x="1158" y="809">Innovation models</text><text class="t" x="1158" y="815">Knowledge society</text><text class="t" x="1158" y="821">The ICT sector</text><text class="t" x="1158" y="827">Technology and society</text><text class="t" x="1158" y="833">Materials culture</text><text class="t" x="1158" y="839">Living labs</text><text class="t" x="1158" y="845">Work centres</text><text class="t" x="1158" y="851">Open innovation</text>
<text class="t u m" x="1170" y="864">Observation of</text><text class="t u m" x="1170" y="870">LaborLab places</text>
<text class="t m" x="1258" y="837">LaborLab</text><text class="t m" x="1258" y="843">Team Congress</text>
<text class="t m" x="1253" y="854">LaborLab</text><text class="t m" x="1253" y="860">Summer School</text>
<text class="t m" x="1227" y="869">Publications</text>
<text class="t m" x="1198" y="884">Microcredits</text>
<text class="t u m" x="1240" y="904">Geography of</text><text class="t u m" x="1240" y="910">LaborLab</text>
<text class="t e" x="935" y="886">Design, Develop and</text><text class="t e" x="935" y="891">Test Eco Culture</text>
<text class="t e" x="935" y="901">Culture of</text><text class="t e" x="935" y="906">LaborLab</text>
<text class="t e" x="935" y="916">ICT</text><text class="t e" x="935" y="921">Communication</text><text class="t e" x="935" y="926">and occupation</text>
<text class="t e" x="935" y="938">SAP Database of</text><text class="t e" x="935" y="943">online platforms</text>
<text class="t e" x="935" y="953">Education, Strategy</text><text class="t e" x="935" y="958">and Business</text>
<text class="t e" x="935" y="973">-</text>
<text class="t m" x="956" y="947" transform="rotate(-90 956 947)">Microcredits</text>
<text class="t b m" x="1090" y="922" font-size="5.4">LaborLab</text>
<text class="t b m" x="1090" y="929" font-size="5.4">Model</text>
</g>
</g>
</svg>
